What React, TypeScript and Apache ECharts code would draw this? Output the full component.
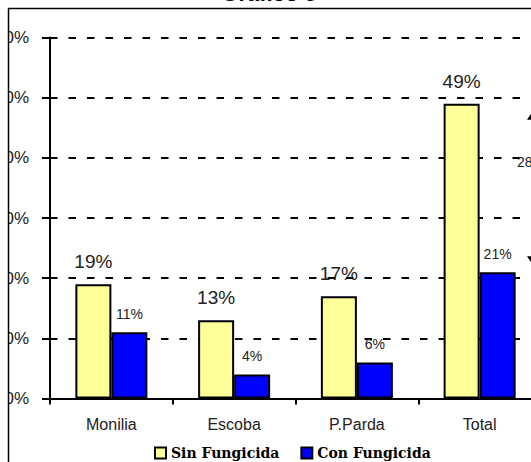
import React, { useEffect, useRef } from "react";
import * as echarts from "echarts";

const categories = ["Monilia", "Escoba", "P.Parda", "Total"];
const sinFungicida = [19, 13, 17, 49];
const conFungicida = [11, 4, 6, 21];
const seriesNames = ["Sin Fungicida", "Con Fungicida"];
const titleText = "Gráfico 5";

export default function App() {
  const ref = useRef<HTMLDivElement>(null);
  useEffect(() => {
    if (!ref.current) return;
    const chart = echarts.init(ref.current, undefined, { renderer: "svg" });
    const black = "#000";
    const option: any = {
      animation: false,
      backgroundColor: "#fff",
      grid: {
        left: 50,
        top: 37.5,
        right: 59,
        bottom: 63.5,
        containLabel: false,
        outerBoundsMode: "none",
      },
      xAxis: {
        type: "category",
        data: categories,
        axisLine: { show: true, lineStyle: { color: black, width: 2 } },
        axisTick: { show: true, length: 6, lineStyle: { color: black, width: 2 } },
        axisLabel: {
          color: "#222",
          fontFamily: "Liberation Sans",
          fontSize: 16,
          margin: 18,
        },
      },
      yAxis: {
        type: "value",
        min: 0,
        max: 60,
        interval: 10,
        axisLine: { show: true, lineStyle: { color: black, width: 2 } },
        axisTick: { show: true, length: 8, lineStyle: { color: black, width: 2 } },
        axisLabel: {
          formatter: "{value}%",
          color: "#222",
          fontFamily: "Liberation Sans",
          fontSize: 17,
          margin: 21,
        },
        splitLine: {
          show: true,
          lineStyle: { color: black, width: 2, type: [7.5, 11] },
        },
      },
      legend: {
        left: 149,
        top: 441,
        itemWidth: 11,
        itemHeight: 11,
        itemGap: 21,
        icon: "rect",
        data: seriesNames,
        textStyle: {
          fontFamily: "DejaVu Serif",
          fontWeight: "bold",
          fontSize: 14,
          color: "#000",
        },
      },
      series: [
        {
          name: seriesNames[0],
          type: "bar",
          data: sinFungicida,
          barWidth: 36,
          barGap: "0%",
          itemStyle: { color: "#FFFF99", borderColor: black, borderWidth: 2 },
          label: {
            show: true,
            position: "top",
            distance: 13,
            formatter: "{c}%",
            color: "#222",
            fontFamily: "Liberation Sans",
            fontSize: 19,
          },
        },
        {
          name: seriesNames[1],
          type: "bar",
          data: conFungicida,
          barWidth: 36,
          barGap: "0%",
          itemStyle: { color: "#0000FF", borderColor: black, borderWidth: 2 },
          label: {
            show: true,
            position: "top",
            distance: 11,
            formatter: "{c}%",
            color: "#222",
            fontFamily: "Liberation Sans",
            fontSize: 14,
          },
        },
      ],
    };
    chart.setOption(option);

    const last = categories.length - 1;
    const topVal = sinFungicida[last];
    const botVal = conFungicida[last];
    const yTop = chart.convertToPixel({ yAxisIndex: 0 }, topVal) as number;
    const yBot = chart.convertToPixel({ yAxisIndex: 0 }, botVal) as number;
    const ax = 533;
    const up = yTop + 7;
    const down = yBot - 7;

    chart.setOption({
      graphic: [
        {
          type: "rect",
          z: 100,
          shape: { x: 0, y: 0, width: 8, height: 462 },
          style: { fill: "#fff" },
        },
        {
          type: "line",
          z: 101,
          shape: { x1: 8.5, y1: 8.5, x2: 8.5, y2: 462 },
          style: { stroke: black, lineWidth: 1.5 },
        },
        {
          type: "line",
          z: 101,
          shape: { x1: 8, y1: 8.5, x2: 600, y2: 8.5 },
          style: { stroke: black, lineWidth: 1.5 },
        },
        {
          type: "text",
          z: 101,
          x: 269,
          y: 4,
          style: {
            text: titleText,
            fill: black,
            font: "bold 22px 'Liberation Sans'",
            align: "center",
            verticalAlign: "bottom",
          },
        },
        {
          type: "polygon",
          z: 50,
          shape: { points: [[ax - 6, up + 9], [ax, up], [ax + 6, up + 9]] },
          style: { fill: black },
        },
        {
          type: "polygon",
          z: 50,
          shape: { points: [[ax - 6, down - 9], [ax, down], [ax + 6, down - 9]] },
          style: { fill: black },
        },
        {
          type: "line",
          z: 50,
          shape: { x1: ax, y1: up + 9, x2: ax, y2: down - 9 },
          style: { stroke: black, lineWidth: 1.5 },
        },
        {
          type: "text",
          z: 50,
          x: 517,
          y: yTop + 58,
          style: {
            text: `${topVal - botVal}%`,
            fill: "#222",
            font: "14px 'Liberation Sans'",
            align: "left",
            verticalAlign: "middle",
          },
        },
      ],
    });
    return () => chart.dispose();
  }, []);

  return (
    <div
      style={{
        position: "fixed",
        left: 0,
        top: 0,
        width: 531,
        height: 462,
        overflow: "hidden",
        background: "#fff",
      }}
    >
      <div ref={ref} style={{ width: 600, height: 462 }} />
    </div>
  );
}
